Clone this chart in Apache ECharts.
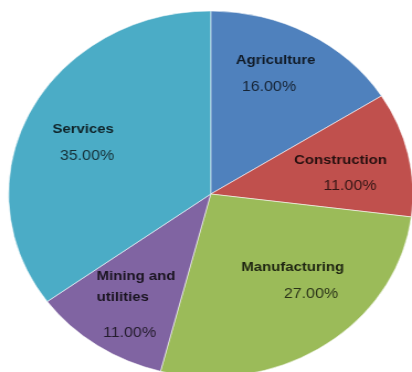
<!DOCTYPE html>
<html>
<head>
<meta charset="utf-8">
<script src="https://cdn.jsdelivr.net/npm/echarts@6/dist/echarts.min.js"></script>
<style>
  html, body { margin: 0; padding: 0; background: #ffffff; overflow: hidden; }
  /* The pie is drawn as an ellipse: the chart canvas is widened horizontally. */
  #wrap { width: 412px; height: 372px; overflow: hidden; }
  #chart { width: 373px; height: 372px; transform: scaleX(1.1046); transform-origin: 0 0; }
</style>
</head>
<body>
<div id="wrap"><div id="chart"></div></div>
<script>
// Share of output by sector (percent)
const sectors = ['Agriculture', 'Construction', 'Manufacturing', 'Mining and utilities', 'Services'];
const shares = [16, 11, 27, 11, 35];
const sliceColors = ['#4f81bd', '#c0504d', '#9bbb59', '#8064a2', '#4bacc6'];

// Pie geometry in chart pixels
const CX = 190.8, CY = 194, R = 183;
// Radial push of each label (multiple of the default mid-radius) and angular shift in degrees
const labelPush = [[1.38, -2], [1.255, 4.1], [1.237, -5.4], [1.404, -3.7], [1.32, -4.5]];
// Horizontal nudge of the percentage line inside each label block: [left, right] padding
const pctPad = [[0, 12], [17, 0], [33, 0], [0, 12], [7, 0]];

const FONT = 'Liberation Sans, Arial, sans-serif';
const rich = {
  n: { fontSize: 13.5, fontWeight: 'bold', lineHeight: 21, color: 'rgba(0,0,0,0.8)', fontFamily: FONT },
  u: { fontSize: 13.5, fontWeight: 'bold', lineHeight: 21, color: 'rgba(0,0,0,0.8)', fontFamily: FONT, padding: [0, 24, 0, 0] },
  s: { fontSize: 6, lineHeight: 9 }
};
pctPad.forEach((pad, i) => {
  rich['p' + i] = {
    fontSize: 14.5, lineHeight: 32, color: 'rgba(0,0,0,0.72)', fontFamily: FONT,
    padding: [0, pad[1], 0, pad[0]]
  };
});

const chart = echarts.init(document.getElementById('chart'), null, { renderer: 'canvas' });

chart.setOption({
  backgroundColor: '#ffffff',
  animation: false,
  series: [{
    type: 'pie',
    center: [CX, CY],
    radius: [0, R],
    startAngle: 90,
    clockwise: true,
    avoidLabelOverlap: false,
    itemStyle: { borderColor: 'rgba(255,255,255,0.55)', borderWidth: 1 },
    data: sectors.map((name, i) => ({
      name: name,
      value: shares[i],
      itemStyle: { color: sliceColors[i] }
    })),
    label: {
      show: true,
      position: 'inside',
      color: 'rgba(0,0,0,0.8)',
      fontFamily: FONT,
      formatter: function (p) {
        const pct = '{p' + p.dataIndex + '|' + p.value.toFixed(2) + '%}';
        const k = p.name.indexOf('and ');
        if (k >= 0) {
          // two-line sector name, with a little extra space before the value
          return '{n|' + p.name.slice(0, k + 3) + '}\n{u|' + p.name.slice(k + 4) + '}\n{s|}\n' + pct;
        }
        return '{n|' + p.name + '}\n' + pct;
      },
      rich: rich
    },
    labelLine: { show: false },
    labelLayout: function (params) {
      const rect = params.labelRect;
      const lx = rect.x + rect.width / 2;
      const ly = rect.y + rect.height / 2;
      const vx = lx - CX, vy = ly - CY;
      const push = labelPush[params.dataIndex];
      const dist = Math.sqrt(vx * vx + vy * vy) * push[0];
      const ang = Math.atan2(vy, vx) + push[1] * Math.PI / 180;
      return {
        dx: CX + dist * Math.cos(ang) - lx,
        dy: CY + dist * Math.sin(ang) - ly
      };
    }
  }]
});
</script>
</body>
</html>
